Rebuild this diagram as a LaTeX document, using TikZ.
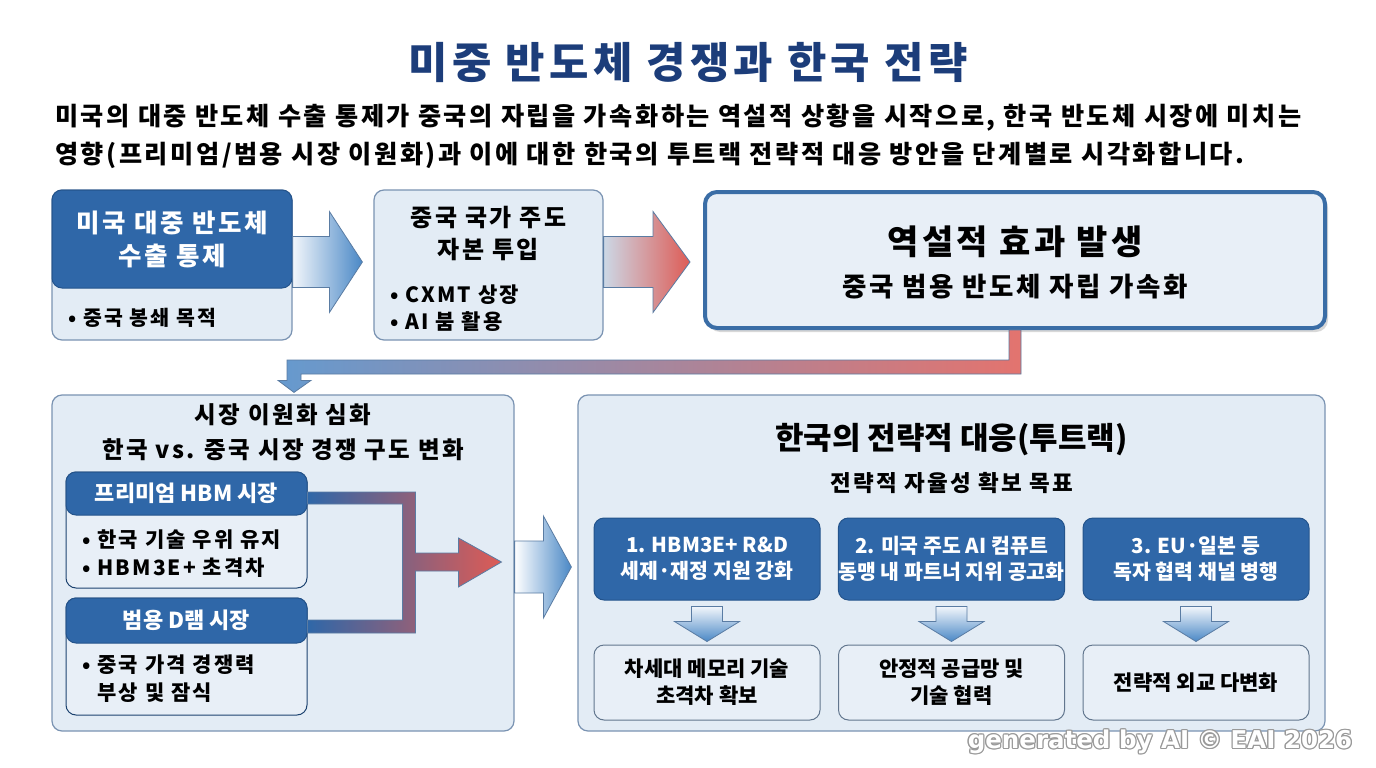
\documentclass[tikz,border=0pt]{standalone}
\usepackage{fontspec}
\setmainfont{Noto Sans CJK KR}
\newfontfamily\wide{Noto Sans CJK KR}[LetterSpace=10]
\newfontfamily\wmfont{DejaVu Sans}
\usetikzlibrary{calc,shadows}
\definecolor{navy}{HTML}{1C3D7A}
\definecolor{hdr}{HTML}{2F67A8}
\definecolor{hdrb}{HTML}{24548C}
\definecolor{lite}{HTML}{E3ECF5}
\definecolor{lite2}{HTML}{E8EFF7}
\definecolor{bord}{HTML}{7A93B2}
\definecolor{bthree}{HTML}{3A6DA6}
\definecolor{arB}{HTML}{4A88C6}
\definecolor{arL}{HTML}{F2F6FB}
\definecolor{arR}{HTML}{DE5B55}
\definecolor{arM}{HTML}{BCD2E8}
\definecolor{arP}{HTML}{CCD8E6}
\definecolor{arO}{HTML}{5A7CA3}
\newcommand\myfs[2]{\fontsize{#1}{#2}\selectfont}
\newcommand\harrow[6]{\path[#6] let \p1=(#1), \p2=(#2) in
 (\x1,\y2+#3) -- (\x2-#5,\y2+#3) -- (\x2-#5,\y2+#4) -- (\x2,\y2) -- (\x2-#5,\y2-#4) -- (\x2-#5,\y2-#3) -- (\x1,\y2-#3) -- cycle;}
\newcommand\varrow[6]{\path[#6] let \p1=(#1), \p2=(#2) in
 (\x2-#3,\y1) -- (\x2-#3,\y2+#5) -- (\x2-#4,\y2+#5) -- (\x2,\y2) -- (\x2+#4,\y2+#5) -- (\x2+#3,\y2+#5) -- (\x2+#3,\y1) -- cycle;}
\tikzset{
 lbox/.style={draw=bord, fill=lite, rounded corners=10pt, line width=1.2pt, inner sep=0pt},
 sbox/.style={draw=hdrb!80!black, fill=lite2, rounded corners=10pt, line width=1pt, inner sep=0pt},
 hbox/.style={draw=hdrb, fill=hdr, rounded corners=10pt, line width=1pt, inner sep=0pt, text=white},
 fat/.style={draw=arO, line width=0.8pt},
 txt/.style={inner sep=0pt, align=center},
}
\begin{document}
\begin{tikzpicture}[x=1pt,y=-1pt]
\useasboundingbox (0,0) rectangle (1376,768);
\fill[white] (0,0) rectangle (1376,768);
% title
\node[txt, text=navy, font=\wide\myfs{42.8}{50}\bfseries] (title) at (688,62) {미중 반도체 경쟁과 한국 전략};
\node[txt, anchor=west, font=\wide\myfs{25.2}{30}\bfseries] (sub1) at (55,118) {미국의 대중 반도체 수출 통제가 중국의 자립을 가속화하는 역설적 상황을 시작으로, 한국 반도체 시장에 미치는};
\node[txt, anchor=west, font=\wide\myfs{25.2}{30}\bfseries] (sub2) at (55,155) {영향(프리미엄/범용 시장 이원화)과 이에 대한 한국의 투트랙 전략적 대응 방안을 단계별로 시각화합니다.};
% box 1
\node[lbox, minimum width=240pt, minimum height=150pt] (b1) at (172,265) {};
\node[hbox, minimum width=240pt, minimum height=98pt] (h0) at (172,239) {};
\node[txt, text=white, font=\wide\myfs{25.5}{33}\bfseries] (t1) at (h0) {미국 대중 반도체\\수출 통제};
\node[txt, anchor=west, font=\wide\myfs{20.5}{26}\bfseries] (t1b) at (68,318) {• 중국 봉쇄 목적};
% box 2
\node[lbox, minimum width=229pt, minimum height=150pt] (b2) at (488.5,265) {};
\node[txt, font=\wide\myfs{24}{32}\bfseries] (t2) at (488.5,234) {중국 국가 주도\\자본 투입};
\node[txt, anchor=west, align=left, font=\wide\myfs{21}{27}\bfseries] (t2b) at (390,308.5) {• CXMT 상장\\• AI 붐 활용};
% box 3
\node[draw=bthree, fill=lite2, rounded corners=12pt, line width=4pt, minimum width=620pt, minimum height=136pt,
  drop shadow={shadow xshift=3pt, shadow yshift=-4pt, opacity=0.3}] (b3) at (1015,260) {};
\node[txt, font=\wide\myfs{34}{40}\bfseries] (t3a) at (1015,242) {역설적 효과 발생};
\node[txt, font=\wide\myfs{26.5}{32}\bfseries] (t3b) at (1015,287) {중국 범용 반도체 자립 가속화};
% top arrows
\harrow{b1.east}{$(b2.west)+(-11,-3)$}{25.5pt}{50.5pt}{33pt}{fat, left color=arL, right color=arB}
\harrow{b2.east}{$(b3.west)+(-13,2)$}{25.5pt}{50.5pt}{37pt}{fat, left color=arP, middle color=arM, right color=arR}
% box 4
\node[lbox, minimum width=462pt, minimum height=336pt] (b4) at (283,563) {};
\node[txt, font=\wide\myfs{23.5}{35}\bfseries] (t4) at (283,432.5) {시장 이원화 심화\\한국 vs. 중국 시장 경쟁 구도 변화};
\node[sbox, minimum width=241pt, minimum height=116pt] (s1) at (186.5,530) {};
\node[hbox, minimum width=241pt, minimum height=43pt, text=white, font=\myfs{22}{26}\bfseries] (h1) at (186.5,493.5) {프리미엄 HBM 시장};
\node[txt, anchor=west, align=left, font=\wide\myfs{21}{28}\bfseries] (s1t) at (82,554) {• 한국 기술 우위 유지\\• HBM3E+ 초격차};
\node[sbox, minimum width=241pt, minimum height=117pt] (s2) at (186.5,656.5) {};
\node[hbox, minimum width=241pt, minimum height=45pt, text=white, font=\myfs{22}{26}\bfseries] (h2) at (186.5,620.5) {범용 D램 시장};
\node[txt, anchor=west, align=left, font=\wide\myfs{21}{28}\bfseries] (s2t) at (82,678.5) {• 중국 가격 경쟁력\\\phantom{• }부상 및 잠식};
% merge connector
\path[fat, left color=hdr, middle color=arM, right color=arR]
 ($(h1.east)+(0,-1.5)$) -- ($(h1.east)+(108,-1.5)$) -- ($(h1.east)+(108,59.5)$) -- ($(h1.east)+(151,59.5)$)
 -- ($(h1.east)+(151,44.5)$) -- ($(h1.east)+(194,68.5)$) -- ($(h1.east)+(151,93.5)$) -- ($(h1.east)+(151,77.5)$)
 -- ($(h1.east)+(108,77.5)$) -- ($(h2.east)+(108,12.5)$) -- ($(h2.east)+(0,12.5)$) -- ($(h2.east)+(0,-0.5)$)
 -- ($(h2.east)+(95,-0.5)$) -- ($(h1.east)+(95,10.5)$) -- ($(h1.east)+(0,10.5)$) -- cycle;
% box 5
\node[lbox, minimum width=747pt, minimum height=336pt] (b5) at (951.5,563) {};
\node[txt, font=\myfs{31}{36}\bfseries] (t5a) at (951.5,440) {한국의 전략적 대응(투트랙)};
\node[txt, font=\wide\myfs{22.5}{28}\bfseries] (t5b) at (951.5,483) {전략적 자율성 확보 목표};
% big arrow box4 -> box5
\harrow{b4.east}{$(b5.west)+(-6,4)$}{26pt}{51pt}{28pt}{fat, left color=white, right color=arB}
% link box3 -> box4
\path[fat, left color=arB!85, middle color=arP, right color=arR!85] let \p1=(b3.south), \p2=($(b4.north)+(11,-2)$) in
 (\x1-6pt,\y1) -- (\x1-6pt,\y1-30pt) -- (\x2-7pt,\y1-30pt) -- (\x2-7pt,\y2+12pt) -- (\x2-16pt,\y2+12pt) -- (\x2,\y2)
 -- (\x2+17pt,\y2+12pt) -- (\x2+7pt,\y2+12pt) -- (\x2+7pt,\y1-44pt) -- (\x1+6pt,\y1-44pt) -- (\x1+6pt,\y1) -- cycle;
% columns
\node[hbox, minimum width=226pt, minimum height=82pt, align=center, font=\myfs{20.5}{26}\bfseries] (c1) at (707,559) {1. HBM3E+ R\&D\\세제·재정 지원 강화};
\node[hbox, minimum width=226pt, minimum height=82pt, align=center, font=\myfs{20.5}{26}\bfseries] (c2) at (951.5,559) {2. 미국 주도 AI 컴퓨트\\동맹 내 파트너 지위 공고화};
\node[hbox, minimum width=226pt, minimum height=82pt, align=center, font=\myfs{20.5}{26}\bfseries] (c3) at (1196,559) {3. EU·일본 등\\독자 협력 채널 병행};
\node[sbox, draw=bord!80!black, minimum width=226pt, minimum height=75pt, align=center, font=\myfs{21}{27}\bfseries] (d1) at (707,682.5) {차세대 메모리 기술\\초격차 확보};
\node[sbox, draw=bord!80!black, minimum width=226pt, minimum height=75pt, align=center, font=\myfs{21}{27}\bfseries] (d2) at (951.5,682.5) {안정적 공급망 및\\기술 협력};
\node[sbox, draw=bord!80!black, minimum width=226pt, minimum height=75pt, align=center, font=\myfs{21}{27}\bfseries] (d3) at (1196,682.5) {전략적 외교 다변화};
\foreach \i in {1,2,3}{
 \varrow{$(c\i.south)+(0,6)$}{$(d\i.north)+(0,-3)$}{15.5pt}{32.5pt}{20pt}{fat, top color=arL, bottom color=arB}
}
% watermark
\coordinate (wmc) at (1160,742);
\foreach \dx/\dy in {1.3/0,-1.3/0,0/1.3,0/-1.3,0.9/0.9,-0.9/0.9,0.9/-0.9,-0.9/-0.9}{
 \node[inner sep=0pt, text=gray!80, font=\wmfont\bfseries\myfs{24.5}{26}] at ($(wmc)+(\dx,\dy)$) {generated by AI © EAI 2026};
}
\node[inner sep=0pt, text=white, font=\wmfont\bfseries\myfs{24.5}{26}] (wm) at (wmc) {generated by AI © EAI 2026};
\end{tikzpicture}
\end{document}
